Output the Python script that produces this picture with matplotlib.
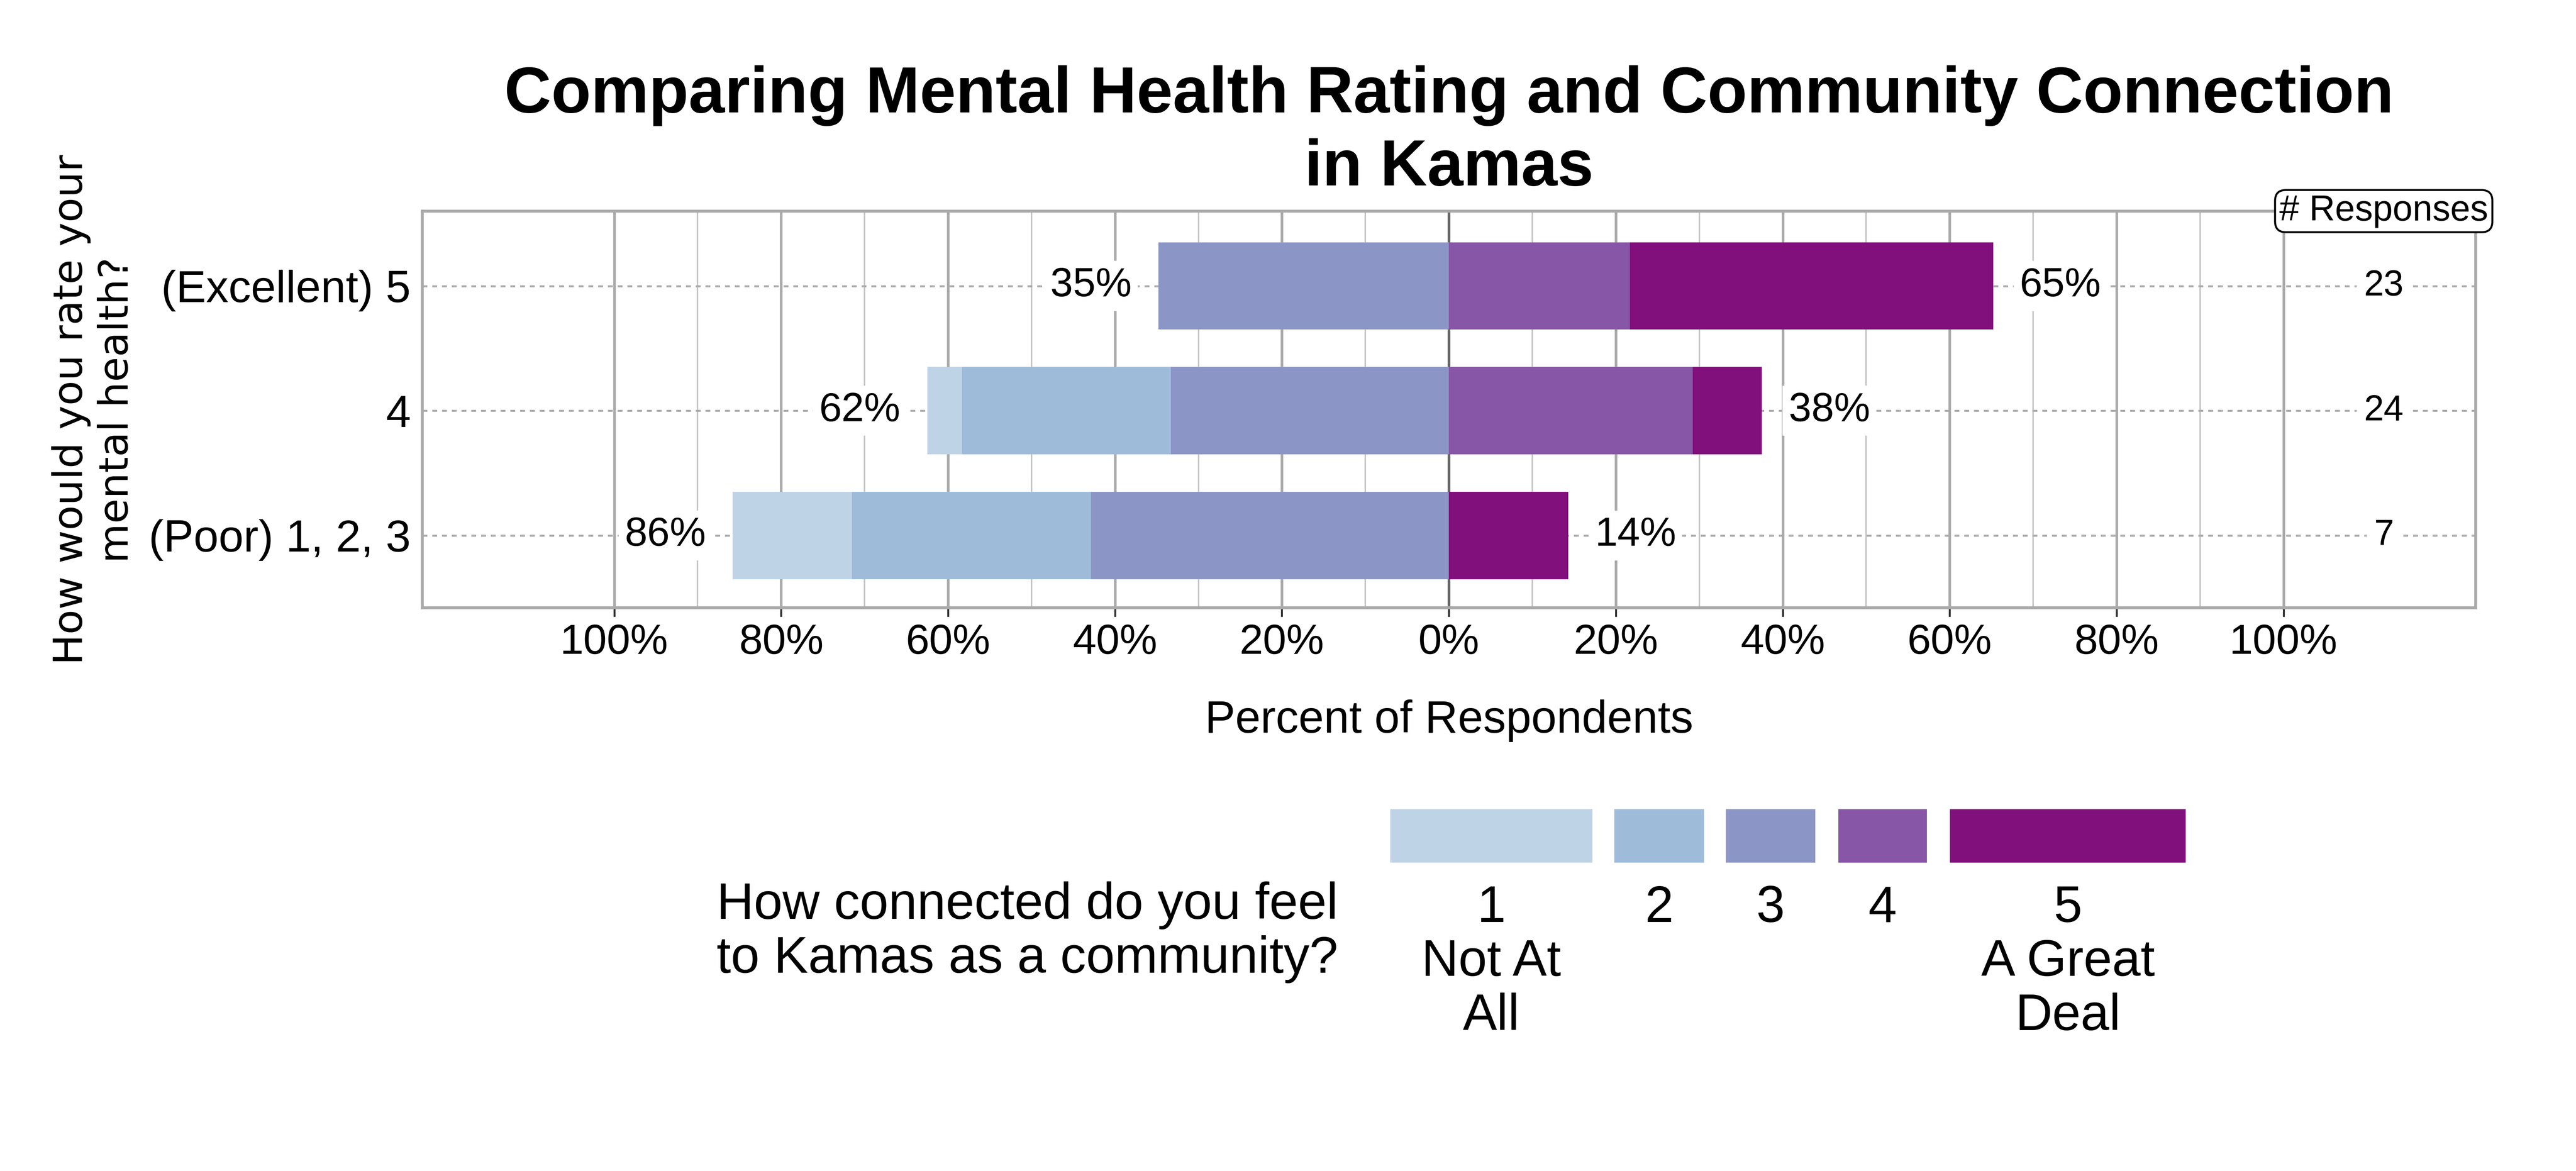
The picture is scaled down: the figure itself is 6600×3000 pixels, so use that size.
import matplotlib
matplotlib.use('Agg')
import matplotlib.pyplot as plt
import matplotlib.transforms as mtransforms
from matplotlib.patches import Rectangle
import numpy as np

# ---------------- data ----------------
categories = ['(Poor) 1, 2, 3', '4', '(Excellent) 5']
n_responses = [7, 24, 23]
# percent of respondents at each connection level (1..5)
level1 = [14.3, 4.2, 0.0]
level2 = [28.6, 25.0, 0.0]
level3 = [42.9, 33.3, 34.8]
level4 = [0.0, 29.2, 21.7]
level5 = [14.3, 8.3, 43.5]
neg_labels = ['86%', '62%', '35%']
pos_labels = ['14%', '38%', '65%']
legend_labels = ['1\nNot At\nAll', '2', '3', '4', '5\nA Great\nDeal']
level_colors = ['#bfd3e6', '#9ebcda', '#8c96c6', '#8856a7', '#810f7c']
xtick_values = [-100, -80, -60, -40, -20, 0, 20, 40, 60, 80, 100]
xtick_labels = ['100%', '80%', '60%', '40%', '20%', '0%', '20%', '40%', '60%', '80%', '100%']
minor_values = [-90, -70, -50, -30, -10, 10, 30, 50, 70, 90]

title = 'Comparing Mental Health Rating and Community Connection\nin Kamas'
ylabel = 'How would you rate your\nmental health?'
xlabel = 'Percent of Respondents'
legend_title = 'How connected do you feel\nto Kamas as a community?'

plt.rcParams['font.family'] = ['Liberation Sans', 'DejaVu Sans']

fig = plt.figure(figsize=(22, 10), dpi=300)
ax_left, ax_width = 0.1639, 0.7971
ax = fig.add_axes([ax_left, 0.481, ax_width, 0.3387])

y = np.arange(len(categories))
l1 = np.array(level1); l2 = np.array(level2); l3 = np.array(level3)
l4 = np.array(level4); l5 = np.array(level5)
bh = 0.7
ax.barh(y, -l3, left=0, height=bh, color=level_colors[2], zorder=3)
ax.barh(y, -l2, left=-l3, height=bh, color=level_colors[1], zorder=3)
ax.barh(y, -l1, left=-(l3 + l2), height=bh, color=level_colors[0], zorder=3)
ax.barh(y, l4, left=0, height=bh, color=level_colors[3], zorder=3)
ax.barh(y, l5, left=l4, height=bh, color=level_colors[4], zorder=3)

neg_tot = l1 + l2 + l3
pos_tot = l4 + l5
for i in range(len(categories)):
    ax.text(-neg_tot[i] - 3.2, y[i], neg_labels[i], ha='right', va='center', fontsize=25,
            bbox=dict(boxstyle='square,pad=0.15', fc='white', ec='none'), zorder=4)
    ax.text(pos_tot[i] + 3.2, y[i], pos_labels[i], ha='left', va='center', fontsize=25,
            bbox=dict(boxstyle='square,pad=0.15', fc='white', ec='none'), zorder=4)
    ax.text(112, y[i], str(n_responses[i]), ha='center', va='center', fontsize=22,
            bbox=dict(boxstyle='square,pad=0.2', fc='white', ec='none'), zorder=4)

trans = mtransforms.blended_transform_factory(ax.transData, ax.transAxes)
ax.text(112, 1.0, '# Responses', transform=trans, ha='center', va='center', fontsize=22,
        bbox=dict(boxstyle='round,pad=0.12,rounding_size=0.3', fc='white', ec='black', lw=1.2),
        zorder=6, clip_on=False)

ax.set_xlim(-123, 123)
ax.set_ylim(-0.58, 2.6)
ax.set_xticks(xtick_values)
ax.set_xticklabels(xtick_labels, fontsize=26)
ax.set_xticks(minor_values, minor=True)
ax.set_yticks(y)
ax.set_yticklabels(categories, fontsize=27.6)
ax.tick_params(axis='x', which='major', length=5.5, width=1.2, color='#333333', pad=4)
ax.tick_params(axis='x', which='minor', length=0)
ax.tick_params(axis='y', length=0, pad=7)

ax.grid(axis='x', which='major', color='#aaaaaa', lw=1.6, zorder=1)
ax.grid(axis='x', which='minor', color='#c4c4c4', lw=0.9, zorder=1)
ax.grid(axis='y', which='major', color='#aaaaaa', lw=1.2, linestyle=(0, (2.5, 2.5)), zorder=1)
ax.axvline(0, color='#666666', lw=1.6, zorder=2)
ax.set_axisbelow(True)
for s in ax.spines.values():
    s.set_color('#aaaaaa')
    s.set_linewidth(1.8)

ax.set_xlabel(xlabel, fontsize=28, labelpad=23)

fig.text(ax_left + ax_width / 2, 0.8872, title, ha='center', va='center', fontsize=40,
         fontweight='bold', linespacing=1.25)
fig.text(0.0365, 0.650, ylabel, ha='center', va='center', rotation=90, fontsize=25,
         family='DejaVu Sans', linespacing=1.2)

# ---------------- legend ----------------
patch_x = [(3562, 4080), (4136, 4366), (4422, 4651), (4710, 4937), (4996, 5600)]
W, H = 6600.0, 3000.0
for (x0, x1), c, lab in zip(patch_x, level_colors, legend_labels):
    fig.patches.append(Rectangle((x0 / W, 1 - 2210 / H), (x1 - x0) / W, (2210 - 2073) / H,
                                 transform=fig.transFigure, facecolor=c, edgecolor='none'))
    fig.text((x0 + x1) / 2 / W, 1 - 2266 / H, lab, ha='center', va='top', fontsize=31.5,
             linespacing=1.16)
fig.text(1836 / W, 1 - 2258 / H, legend_title, ha='left', va='top', fontsize=31.7,
         linespacing=1.16)

fig.savefig('out.png', dpi=300, facecolor='white')
